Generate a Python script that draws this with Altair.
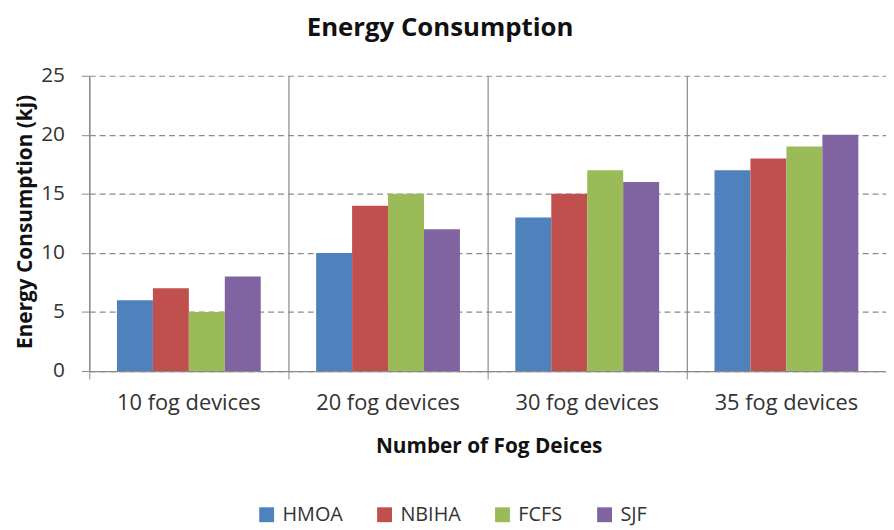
import altair as alt
import pandas as pd

categories = ["10 fog devices", "20 fog devices", "30 fog devices", "35 fog devices"]
series = ["HMOA", "NBIHA", "FCFS", "SJF"]
hmoa = [6, 10, 13, 17]
nbiha = [7, 14, 15, 18]
fcfs = [5, 15, 17, 19]
sjf = [8, 12, 16, 20]
colors = ["#4F81BD", "#C0504D", "#9BBB59", "#8064A2"]

rows = []
for name, vals in zip(series, [hmoa, nbiha, fcfs, sjf]):
    for c, v in zip(categories, vals):
        rows.append({"category": c, "series": name, "value": v})
df = pd.DataFrame(rows)

FONT = "Open Sans"
GRAY = "#8a8a8a"

chart = alt.Chart(df).mark_bar().encode(
    x=alt.X(
        "category:N",
        sort=categories,
        scale=alt.Scale(paddingInner=0, paddingOuter=0),
        axis=alt.Axis(
            title="Number of Fog Deices",
            labelAngle=0,
            labelFont=FONT,
            labelFontSize=22,
            labelColor="#333333",
            labelPadding=14,
            bandPosition=0,
            grid=True,
            gridColor=GRAY,
            gridWidth=1.2,
            ticks=True,
            tickSize=8,
            tickColor=GRAY,
            domainColor=GRAY,
            domainWidth=1.2,
            titleFont=FONT,
            titleFontSize=21,
            titleFontWeight="bold",
            titleColor="#111111",
            titleX=403,
            titleY=76,
            titleBaseline="middle",
            titleAlign="center",
        ),
    ),
    xOffset=alt.XOffset(
        "series:N",
        sort=series,
        scale=alt.Scale(paddingInner=0, paddingOuter=0.77),
    ),
    y=alt.Y(
        "value:Q",
        scale=alt.Scale(domain=[0, 25], nice=False),
        axis=alt.Axis(
            title="Energy Consumption (kj)",
            values=[0, 5, 10, 15, 20, 25],
            labelFont=FONT,
            labelFontSize=21,
            labelColor="#333333",
            labelPadding=17,
            grid=True,
            gridColor=GRAY,
            gridDash=[6, 4],
            gridWidth=1.2,
            tickSize=8,
            tickColor=GRAY,
            domainColor=GRAY,
            domainWidth=1.2,
            titleFont=FONT,
            titleFontSize=21,
            titleFontWeight="bold",
            titleColor="#111111",
            titleAngle=270,
            titleX=-64,
            titleY=147,
            titleAlign="center",
            titleBaseline="middle",
        ),
    ),
    color=alt.Color(
        "series:N",
        sort=series,
        scale=alt.Scale(domain=series, range=colors),
        legend=alt.Legend(
            title=None,
            orient="none",
            legendX=169,
            legendY=433,
            direction="horizontal",
            symbolType="square",
            symbolSize=225,
            symbolStrokeWidth=0,
            labelFont=FONT,
            labelFontSize=20,
            labelColor="#333333",
            labelOffset=6,
            columnPadding=32,
        ),
    ),
).properties(
    width=804,
    height=298,
    title=alt.TitleParams(
        "Energy Consumption",
        font=FONT,
        fontSize=26,
        fontWeight="bold",
        color="#111111",
        anchor="middle",
        dx=-48,
        offset=24,
    ),
    autosize=alt.AutoSizeParams(type="none"),
    padding={"left": 82, "top": 66, "right": 0, "bottom": 154},
).configure_view(stroke=None)

chart.save("out.html", embed_options={"renderer": "svg", "actions": False})
